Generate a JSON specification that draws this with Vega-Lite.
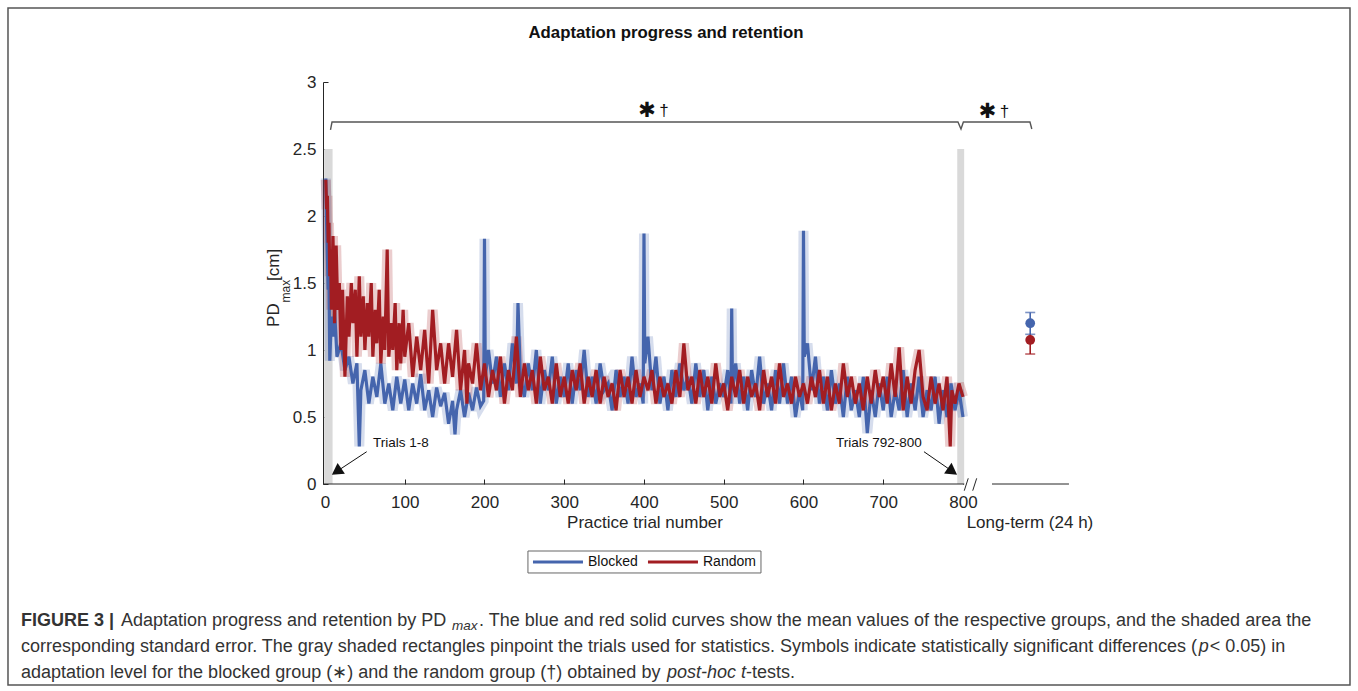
{
"$schema":"https://vega.github.io/schema/vega-lite/v6.json",
"width":747,"height":402,
"autosize":{"type":"none"},
"padding":{"left":323,"top":82,"right":288,"bottom":207},
"background":"white",
"config":{"view":{"stroke":null},"font":"Liberation Sans"},
"datasets":{
"blocked":[{"t":1,"v":2.28},{"t":2,"v":1.95},{"t":3,"v":1.7},{"t":4,"v":1.45},{"t":5,"v":1.55},{"t":6,"v":0.92},{"t":8,"v":1.25},{"t":10,"v":1.1},{"t":12,"v":1.3},{"t":15,"v":0.95},{"t":20,"v":1.05},{"t":25,"v":0.85},{"t":30,"v":0.95},{"t":35,"v":0.75},{"t":40,"v":0.9},{"t":43,"v":0.28},{"t":45,"v":0.7},{"t":50,"v":0.85},{"t":55,"v":0.6},{"t":60,"v":0.8},{"t":65,"v":0.65},{"t":70,"v":0.9},{"t":75,"v":0.6},{"t":80,"v":0.75},{"t":85,"v":0.55},{"t":90,"v":0.8},{"t":95,"v":0.6},{"t":100,"v":0.78},{"t":105,"v":0.55},{"t":110,"v":0.75},{"t":115,"v":0.6},{"t":120,"v":0.82},{"t":125,"v":0.55},{"t":130,"v":0.7},{"t":135,"v":0.5},{"t":140,"v":0.72},{"t":145,"v":0.58},{"t":150,"v":0.68},{"t":155,"v":0.45},{"t":160,"v":0.62},{"t":163,"v":0.37},{"t":165,"v":0.55},{"t":170,"v":0.7},{"t":175,"v":0.5},{"t":180,"v":0.68},{"t":185,"v":0.55},{"t":190,"v":0.72},{"t":195,"v":0.58},{"t":199,"v":0.62},{"t":200,"v":1.83},{"t":201,"v":0.8},{"t":205,"v":1.0},{"t":210,"v":0.75},{"t":215,"v":0.95},{"t":220,"v":0.65},{"t":225,"v":0.9},{"t":230,"v":0.7},{"t":235,"v":1.05},{"t":240,"v":0.75},{"t":242,"v":1.35},{"t":245,"v":0.8},{"t":250,"v":0.65},{"t":255,"v":0.9},{"t":260,"v":0.7},{"t":265,"v":1.0},{"t":270,"v":0.6},{"t":275,"v":0.85},{"t":280,"v":0.7},{"t":285,"v":0.95},{"t":290,"v":0.6},{"t":295,"v":0.8},{"t":300,"v":0.65},{"t":305,"v":0.9},{"t":310,"v":0.6},{"t":315,"v":0.85},{"t":320,"v":0.7},{"t":325,"v":1.0},{"t":330,"v":0.65},{"t":335,"v":0.8},{"t":340,"v":0.6},{"t":345,"v":0.9},{"t":350,"v":0.7},{"t":355,"v":0.75},{"t":360,"v":0.55},{"t":365,"v":0.85},{"t":370,"v":0.65},{"t":375,"v":0.8},{"t":380,"v":0.6},{"t":385,"v":0.95},{"t":390,"v":0.65},{"t":395,"v":0.75},{"t":399,"v":0.6},{"t":400,"v":1.87},{"t":401,"v":0.9},{"t":405,"v":1.1},{"t":410,"v":0.7},{"t":415,"v":0.95},{"t":420,"v":0.6},{"t":425,"v":0.8},{"t":430,"v":0.55},{"t":435,"v":0.85},{"t":440,"v":0.65},{"t":445,"v":0.9},{"t":450,"v":0.7},{"t":455,"v":0.8},{"t":460,"v":0.6},{"t":465,"v":0.9},{"t":470,"v":0.65},{"t":475,"v":0.85},{"t":480,"v":0.55},{"t":485,"v":0.8},{"t":490,"v":0.6},{"t":495,"v":0.75},{"t":500,"v":0.65},{"t":505,"v":0.85},{"t":509,"v":0.6},{"t":510,"v":1.31},{"t":511,"v":0.7},{"t":515,"v":0.9},{"t":520,"v":0.6},{"t":525,"v":0.8},{"t":530,"v":0.55},{"t":535,"v":0.85},{"t":540,"v":0.65},{"t":545,"v":0.95},{"t":550,"v":0.6},{"t":555,"v":0.75},{"t":560,"v":0.55},{"t":565,"v":0.85},{"t":570,"v":0.6},{"t":575,"v":0.9},{"t":580,"v":0.6},{"t":585,"v":0.8},{"t":590,"v":0.5},{"t":595,"v":0.7},{"t":599,"v":0.55},{"t":600,"v":1.89},{"t":601,"v":0.95},{"t":605,"v":1.05},{"t":610,"v":0.7},{"t":615,"v":0.95},{"t":620,"v":0.6},{"t":625,"v":0.8},{"t":630,"v":0.55},{"t":635,"v":0.85},{"t":640,"v":0.6},{"t":645,"v":0.75},{"t":650,"v":0.5},{"t":655,"v":0.8},{"t":660,"v":0.55},{"t":665,"v":0.7},{"t":670,"v":0.5},{"t":675,"v":0.8},{"t":680,"v":0.38},{"t":685,"v":0.7},{"t":690,"v":0.5},{"t":695,"v":0.75},{"t":700,"v":0.55},{"t":705,"v":0.8},{"t":710,"v":0.5},{"t":715,"v":0.7},{"t":720,"v":0.55},{"t":725,"v":0.85},{"t":730,"v":0.5},{"t":735,"v":0.75},{"t":740,"v":0.55},{"t":745,"v":0.8},{"t":750,"v":0.5},{"t":755,"v":0.7},{"t":760,"v":0.55},{"t":765,"v":0.8},{"t":770,"v":0.45},{"t":775,"v":0.7},{"t":780,"v":0.5},{"t":785,"v":0.75},{"t":790,"v":0.55},{"t":795,"v":0.7},{"t":800,"v":0.5}],
"random":[{"t":1,"v":2.27},{"t":2,"v":2.05},{"t":3,"v":2.15},{"t":4,"v":1.8},{"t":5,"v":1.95},{"t":6,"v":1.55},{"t":7,"v":1.75},{"t":8,"v":1.3},{"t":10,"v":1.85},{"t":12,"v":1.2},{"t":14,"v":1.78},{"t":16,"v":1.3},{"t":18,"v":1.5},{"t":20,"v":1.0},{"t":22,"v":1.45},{"t":25,"v":0.8},{"t":28,"v":1.4},{"t":30,"v":1.1},{"t":33,"v":1.5},{"t":35,"v":1.2},{"t":38,"v":1.45},{"t":40,"v":0.95},{"t":43,"v":1.55},{"t":45,"v":1.1},{"t":48,"v":1.4},{"t":50,"v":1.0},{"t":53,"v":1.35},{"t":55,"v":1.1},{"t":58,"v":1.5},{"t":60,"v":0.95},{"t":63,"v":1.3},{"t":65,"v":1.05},{"t":68,"v":1.45},{"t":70,"v":0.9},{"t":73,"v":1.25},{"t":75,"v":1.0},{"t":78,"v":1.75},{"t":80,"v":0.95},{"t":83,"v":1.2},{"t":85,"v":1.0},{"t":88,"v":1.35},{"t":90,"v":0.85},{"t":93,"v":1.2},{"t":95,"v":0.9},{"t":98,"v":1.3},{"t":100,"v":0.95},{"t":105,"v":1.2},{"t":110,"v":0.8},{"t":115,"v":1.1},{"t":120,"v":0.85},{"t":125,"v":1.15},{"t":130,"v":0.75},{"t":135,"v":1.3},{"t":140,"v":0.85},{"t":145,"v":1.05},{"t":150,"v":0.75},{"t":155,"v":1.05},{"t":160,"v":0.8},{"t":165,"v":1.15},{"t":170,"v":0.7},{"t":175,"v":1.0},{"t":178,"v":0.6},{"t":180,"v":0.9},{"t":185,"v":0.75},{"t":190,"v":1.05},{"t":195,"v":0.7},{"t":200,"v":0.9},{"t":205,"v":0.65},{"t":210,"v":0.85},{"t":215,"v":0.7},{"t":220,"v":0.95},{"t":225,"v":0.6},{"t":230,"v":0.85},{"t":235,"v":0.7},{"t":240,"v":1.1},{"t":245,"v":0.65},{"t":250,"v":0.9},{"t":255,"v":0.7},{"t":260,"v":0.85},{"t":265,"v":0.6},{"t":270,"v":0.95},{"t":275,"v":0.7},{"t":280,"v":0.8},{"t":285,"v":0.6},{"t":290,"v":0.9},{"t":295,"v":0.65},{"t":300,"v":0.8},{"t":305,"v":0.6},{"t":310,"v":0.85},{"t":315,"v":0.7},{"t":320,"v":0.9},{"t":325,"v":0.6},{"t":330,"v":0.8},{"t":335,"v":0.65},{"t":340,"v":0.85},{"t":345,"v":0.6},{"t":350,"v":0.8},{"t":355,"v":0.65},{"t":360,"v":0.75},{"t":365,"v":0.55},{"t":370,"v":0.85},{"t":375,"v":0.65},{"t":380,"v":0.8},{"t":385,"v":0.6},{"t":390,"v":0.85},{"t":395,"v":0.65},{"t":400,"v":0.8},{"t":405,"v":0.7},{"t":410,"v":0.85},{"t":415,"v":0.6},{"t":420,"v":0.8},{"t":425,"v":0.65},{"t":430,"v":0.75},{"t":435,"v":0.6},{"t":440,"v":0.85},{"t":445,"v":0.65},{"t":450,"v":1.05},{"t":455,"v":0.7},{"t":460,"v":0.8},{"t":465,"v":0.6},{"t":470,"v":0.85},{"t":475,"v":0.65},{"t":480,"v":0.8},{"t":485,"v":0.6},{"t":490,"v":0.9},{"t":495,"v":0.65},{"t":500,"v":0.75},{"t":505,"v":0.55},{"t":510,"v":0.8},{"t":515,"v":0.65},{"t":520,"v":0.85},{"t":525,"v":0.6},{"t":530,"v":0.8},{"t":535,"v":0.65},{"t":540,"v":0.75},{"t":545,"v":0.55},{"t":550,"v":0.85},{"t":555,"v":0.65},{"t":560,"v":0.8},{"t":565,"v":0.6},{"t":570,"v":0.9},{"t":575,"v":0.65},{"t":580,"v":0.75},{"t":585,"v":0.6},{"t":590,"v":0.8},{"t":595,"v":0.65},{"t":600,"v":0.75},{"t":605,"v":0.6},{"t":610,"v":0.8},{"t":615,"v":0.65},{"t":620,"v":0.85},{"t":625,"v":0.6},{"t":630,"v":0.8},{"t":635,"v":0.55},{"t":640,"v":0.75},{"t":645,"v":0.6},{"t":650,"v":0.9},{"t":655,"v":0.65},{"t":660,"v":0.8},{"t":665,"v":0.6},{"t":670,"v":0.75},{"t":675,"v":0.55},{"t":680,"v":0.8},{"t":685,"v":0.6},{"t":690,"v":0.85},{"t":695,"v":0.65},{"t":700,"v":0.8},{"t":705,"v":0.6},{"t":710,"v":0.9},{"t":715,"v":0.65},{"t":720,"v":1.02},{"t":725,"v":0.55},{"t":730,"v":0.8},{"t":735,"v":0.6},{"t":740,"v":0.85},{"t":745,"v":1.0},{"t":750,"v":0.65},{"t":755,"v":0.55},{"t":760,"v":0.8},{"t":765,"v":0.6},{"t":770,"v":0.75},{"t":775,"v":0.55},{"t":780,"v":0.8},{"t":784,"v":0.28},{"t":786,"v":0.7},{"t":790,"v":0.6},{"t":795,"v":0.75},{"t":800,"v":0.65}]
},
"encoding":{
 "x":{"field":"t","type":"quantitative","scale":{"domain":[-2.5,934.2],"nice":false,"zero":false},
  "axis":{"values":[0,100,200,300,400,500,600,700,800],"domain":false,"grid":false,"tickSize":-5,"tickColor":"#262626","labelFontSize":17,"labelColor":"#262626","labelPadding":15,"title":null,"labelFlush":false,"labelFont":"Liberation Sans"}},
 "y":{"field":"v","type":"quantitative","scale":{"domain":[0,3],"nice":false,"zero":false},
  "axis":{"values":[0,0.5,1,1.5,2,2.5,3],"format":"~g","domain":true,"domainColor":"#262626","grid":false,"tickSize":-5,"tickColor":"#262626","labelFontSize":17,"labelColor":"#262626","labelPadding":12,"title":null,"labelFont":"Liberation Sans"}}
},
"layer":[
 {"data":{"values":[{"t":-397.5,"t2":1285.3,"v":-1.5,"v2":3.552}]},
  "mark":{"type":"rect","fill":"white","fillOpacity":0,"stroke":"#555555","strokeWidth":1.5,"clip":false},
  "encoding":{"x2":{"field":"t2"},"y2":{"field":"v2"}}},
 {"data":{"values":[{"t":-1,"t2":9.5,"v":0,"v2":2.5},{"t":792.8,"t2":801.5,"v":0,"v2":2.5}]},
  "mark":{"type":"rect","fill":"#d9d9d9","clip":false},
  "encoding":{"x2":{"field":"t2"},"y2":{"field":"v2"}}},
 {"data":{"name":"blocked"},"mark":{"type":"line","color":"#4565ad","strokeWidth":10,"opacity":0.22,"clip":false},"encoding":{}},
 {"data":{"name":"random"},"mark":{"type":"line","color":"#a21d22","strokeWidth":10,"opacity":0.22,"clip":false},"encoding":{}},
 {"data":{"name":"blocked"},"mark":{"type":"line","color":"#4565ad","strokeWidth":3.2,"clip":false},"encoding":{}},
 {"data":{"name":"random"},"mark":{"type":"line","color":"#a21d22","strokeWidth":3.2,"clip":false},"encoding":{}},
 {"data":{"values":[{"t":-2.5,"t2":801.6,"v":0,"v2":0},{"t":836.4,"t2":932.9,"v":0,"v2":0},{"t":801.6,"t2":806.6,"v":-0.05,"v2":0.0425},{"t":812.2,"t2":817.2,"v":-0.05,"v2":0.0425}]},
  "mark":{"type":"rule","color":"#262626","strokeWidth":1,"clip":false},
  "encoding":{"x2":{"field":"t2"},"y2":{"field":"v2"}}},
 {"data":{"values":[{"o":1,"t":6.9,"v":2.642},{"o":2,"t":8.8,"v":2.701},{"o":3,"t":793.7,"v":2.701},{"o":4,"t":797.5,"v":2.649},{"o":5,"t":800.5,"v":2.701},{"o":6,"t":884,"v":2.701},{"o":7,"t":886.3,"v":2.649}]},
  "mark":{"type":"line","color":"#555555","strokeWidth":1.4,"clip":false},
  "encoding":{"order":{"field":"o","type":"quantitative"}}},
 {"data":{"values":[{"t":884.3,"v":1.117,"v2":1.28}]},
  "mark":{"type":"rule","color":"#4565ad","strokeWidth":1.6,"clip":false},"encoding":{"y2":{"field":"v2"}}},
 {"data":{"values":[{"t":884.3,"v":0.97,"v2":1.12}]},
  "mark":{"type":"rule","color":"#a21d22","strokeWidth":1.6,"clip":false},"encoding":{"y2":{"field":"v2"}}},
 {"data":{"values":[{"t":884.3,"v":1.28},{"t":884.3,"v":1.117}]},
  "mark":{"type":"tick","orient":"horizontal","size":10,"thickness":1.6,"color":"#4565ad","clip":false},"encoding":{}},
 {"data":{"values":[{"t":884.3,"v":0.97}]},
  "mark":{"type":"tick","orient":"horizontal","size":10,"thickness":1.6,"color":"#a21d22","clip":false},"encoding":{}},
 {"data":{"values":[{"t":884.3,"v":1.2}]},
  "mark":{"type":"point","filled":true,"size":95,"opacity":1,"color":"#4565ad","clip":false},"encoding":{}},
 {"data":{"values":[{"t":884.3,"v":1.075}]},
  "mark":{"type":"point","filled":true,"size":95,"opacity":1,"color":"#a21d22","clip":false},"encoding":{}},
 {"data":{"values":[{"a":1,"t":52.3,"v":0.241},{"a":1,"t":12.5,"v":0.085},{"a":2,"t":751.1,"v":0.241},{"a":2,"t":788.5,"v":0.087}]},
  "mark":{"type":"line","color":"#111111","strokeWidth":1,"clip":false},
  "encoding":{"detail":{"field":"a","type":"nominal"}}},
 {"data":{"values":[{"t":14.5,"v":0.093}]},
  "mark":{"type":"point","shape":"triangle-right","filled":true,"size":170,"angle":146,"color":"#111111","opacity":1,"clip":false},"encoding":{}},
 {"data":{"values":[{"t":786.8,"v":0.094}]},
  "mark":{"type":"point","shape":"triangle-right","filled":true,"size":170,"angle":35,"color":"#111111","opacity":1,"clip":false},"encoding":{}},
 {"data":{"values":[{"t":60.2,"v":0.306,"txt":"Trials 1-8"},{"t":640.8,"v":0.306,"txt":"Trials 792-800"}]},
  "mark":{"type":"text","align":"left","baseline":"middle","fontSize":13.5,"color":"#111111","clip":false},
  "encoding":{"text":{"field":"txt"}}},
 {"data":{"values":[{"t":427.6,"v":3.366,"txt":"Adaptation progress and retention"}]},
  "mark":{"type":"text","align":"center","baseline":"middle","fontSize":16.8,"fontWeight":"bold","color":"#111111","clip":false},
  "encoding":{"text":{"field":"txt"}}},
 {"data":{"values":[{"t":401.3,"v":-0.291,"txt":"Practice trial number"},{"t":884,"v":-0.291,"txt":"Long-term (24 h)"}]},
  "mark":{"type":"text","align":"center","baseline":"middle","fontSize":17,"color":"#262626","clip":false},
  "encoding":{"text":{"field":"txt"}}},
 {"data":{"values":[{"t":-63.9,"v":1.172,"txt":"PD"},{"t":-63.9,"v":1.515,"txt":" [cm]"}]},
  "mark":{"type":"text","align":"left","baseline":"middle","angle":270,"fontSize":17,"color":"#262626","clip":false},
  "encoding":{"text":{"field":"txt"}}},
 {"data":{"values":[{"t":-49.5,"v":1.355,"txt":"max"}]},
  "mark":{"type":"text","align":"left","baseline":"middle","angle":270,"fontSize":12,"color":"#262626","clip":false},
  "encoding":{"text":{"field":"txt"}}},
 {"data":{"values":[{"t":403.8,"v":2.784,"txt":"✱"},{"t":830.7,"v":2.776,"txt":"✱"}]},
  "mark":{"type":"text","align":"center","baseline":"middle","fontSize":21,"font":"DejaVu Sans","color":"#111111","clip":false},
  "encoding":{"text":{"field":"txt"}}},
 {"data":{"values":[{"t":425.1,"v":2.784,"txt":"†"},{"t":852,"v":2.776,"txt":"†"}]},
  "mark":{"type":"text","align":"center","baseline":"middle","fontSize":17,"color":"#111111","clip":false},
  "encoding":{"text":{"field":"txt"}}},
 {"data":{"values":[{"t":254.5,"t2":546.7,"v":-0.5,"v2":-0.664}]},
  "mark":{"type":"rect","fill":"white","stroke":"#666666","strokeWidth":1,"clip":false},
  "encoding":{"x2":{"field":"t2"},"y2":{"field":"v2"}}},
 {"data":{"values":[{"t":260.8,"t2":323.5,"v":-0.582}]},
  "mark":{"type":"rule","color":"#4565ad","strokeWidth":3,"clip":false},"encoding":{"x2":{"field":"t2"}}},
 {"data":{"values":[{"t":405.0,"t2":467.7,"v":-0.582}]},
  "mark":{"type":"rule","color":"#a21d22","strokeWidth":3,"clip":false},"encoding":{"x2":{"field":"t2"}}},
 {"data":{"values":[{"t":329.8,"v":-0.582,"txt":"Blocked"},{"t":474.0,"v":-0.582,"txt":"Random"}]},
  "mark":{"type":"text","align":"left","baseline":"middle","fontSize":14,"color":"#111111","clip":false},
  "encoding":{"text":{"field":"txt"}}},
 {"data":{"values":[{"t":-381.2,"v":-1.022,"txt":"FIGURE 3 |"}]},
  "mark":{"type":"text","align":"left","baseline":"middle","fontSize":18,"fontWeight":"bold","color":"#333333","clip":false},
  "encoding":{"text":{"field":"txt"}}},
 {"data":{"values":[
   {"t":-255.8,"v":-1.022,"txt":"Adaptation progress and retention by PD"},
   {"t":193.1,"v":-1.022,"txt":". The blue and red solid curves show the mean values of the respective groups, and the shaded area the"},
   {"t":-381.2,"v":-1.216,"txt":"corresponding standard error. The gray shaded rectangles pinpoint the trials used for statistics. Symbols indicate statistically significant differences ("},
   {"t":1109.5,"v":-1.216,"txt":"\u00a0< 0.05) in"},
   {"t":-381.2,"v":-1.410,"txt":"adaptation level for the blocked group (∗) and the random group (†) obtained by "},
   {"t":527.9,"v":-1.410,"txt":"-tests."}]},
  "mark":{"type":"text","align":"left","baseline":"middle","fontSize":18,"color":"#333333","clip":false},
  "encoding":{"text":{"field":"txt"}}},
 {"data":{"values":[{"t":1095.5,"v":-1.216,"txt":"p"},{"t":428.8,"v":-1.410,"txt":"post-hoc t"}]},
  "mark":{"type":"text","align":"left","baseline":"middle","fontSize":18,"fontStyle":"italic","color":"#333333","clip":false},
  "encoding":{"text":{"field":"txt"}}},
 {"data":{"values":[{"t":159.2,"v":-1.060,"txt":"max"}]},
  "mark":{"type":"text","align":"left","baseline":"middle","fontSize":13.5,"fontStyle":"italic","color":"#333333","clip":false},
  "encoding":{"text":{"field":"txt"}}}
]
}
